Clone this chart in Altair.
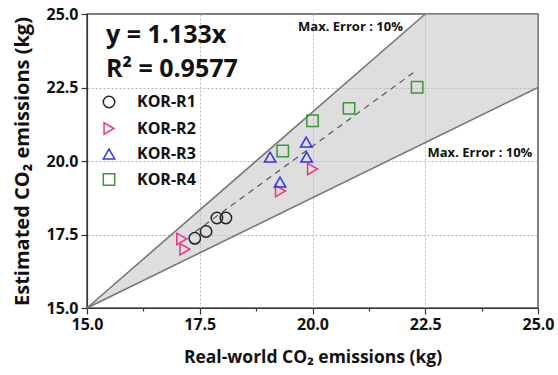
import altair as alt
import pandas as pd

# ---- data ----
r1_x = [17.39, 17.64, 17.88, 18.08]
r1_y = [17.37, 17.60, 18.06, 18.06]
r2_x = [17.10, 17.17, 19.29, 20.00]
r2_y = [17.35, 17.00, 18.98, 19.73]
r3_x = [19.06, 19.28, 19.86, 19.87]
r3_y = [20.13, 19.28, 20.64, 20.13]
r4_x = [19.34, 20.00, 20.81, 22.32]
r4_y = [20.34, 21.37, 21.79, 22.51]
series = ["KOR-R1", "KOR-R2", "KOR-R3", "KOR-R4"]
colors = ["#222222", "#e8388a", "#3232e6", "#3c963c"]
shapes = ["circle", "triangle-right", "triangle-up", "square"]

# error band (10%) boundaries
band_x = [15.0, 22.5, 25.0]
band_lo = [15.0, 20.625, 22.5]
band_hi = [15.0, 25.0, 25.0]
upper_x = [15.0, 22.5]
upper_y = [15.0, 25.0]
lower_x = [15.0, 25.0]
lower_y = [15.0, 22.5]
# fitted line (dashed)
fit_x = [17.4, 22.32]
fit_y = [17.59, 23.10]

ann_text = ["y = 1.133x", "R\u00b2 = 0.9577"]
ann_x = [15.42, 15.42]
ann_y = [24.01, 22.86]
err_text = ["Max. Error : 10%", "Max. Error : 10%"]
err_x = [19.68, 22.55]
err_y = [24.56, 20.27]

FONT = "Open Sans"

rows = []
for name, xs, ys in zip(series, [r1_x, r2_x, r3_x, r4_x], [r1_y, r2_y, r3_y, r4_y]):
    for a, b in zip(xs, ys):
        rows.append({"x": a, "y": b, "series": name})
pts = pd.DataFrame(rows)

xscale = alt.Scale(domain=[15, 25], nice=False, zero=False)
yscale = alt.Scale(domain=[15, 25], nice=False, zero=False)
ticks = [15 + 1.25 * i for i in range(9)]
major = "abs(datum.value / 2.5 - round(datum.value / 2.5)) < 0.001"
inner = "(" + major + ") && datum.value > 15.01 && datum.value < 24.99"


def make_axis(title, title_size, title_pad, label_pad):
    return alt.Axis(
        title=title, values=ticks,
        labelExpr="(" + major + ") ? format(datum.value, '.1f') : ''",
        labelFont=FONT, labelFontSize=16, labelFontWeight="bold", labelColor="#111",
        titleFont=FONT, titleFontSize=title_size, titleFontWeight="bold", titleColor="#111",
        titlePadding=title_pad, domainColor="#333", domainWidth=1.2,
        tickColor="#333", tickWidth=1.2,
        tickSize={"condition": {"test": major, "value": 6}, "value": 3},
        grid=True, gridColor="#b5b5b5", gridDash=[2, 2], gridWidth=1,
        gridOpacity={"condition": {"test": inner, "value": 1}, "value": 0},
        labelPadding=label_pad, labelFlush=False, labelOverlap=False)


band_df = pd.DataFrame({"x": band_x, "lo": band_lo, "hi": band_hi})
band = alt.Chart(band_df).mark_area(color="#bdbdbd", opacity=0.5).encode(
    x=alt.X("x:Q", scale=xscale, axis=make_axis("Real-world CO\u2082 emissions (kg)", 17.5, 16, 2)),
    y=alt.Y("lo:Q", scale=yscale, axis=make_axis("Estimated CO\u2082 emissions (kg)", 20, 13, 3)),
    y2="hi:Q",
)

upper = alt.Chart(pd.DataFrame({"x": upper_x, "y": upper_y})).mark_line(
    color="#777777", strokeWidth=1.6).encode(x=alt.X("x:Q", scale=xscale), y=alt.Y("y:Q", scale=yscale))
lower = alt.Chart(pd.DataFrame({"x": lower_x, "y": lower_y})).mark_line(
    color="#777777", strokeWidth=1.6).encode(x=alt.X("x:Q", scale=xscale), y=alt.Y("y:Q", scale=yscale))
fit = alt.Chart(pd.DataFrame({"x": fit_x, "y": fit_y})).mark_line(
    color="#555555", strokeWidth=1.2, strokeDash=[6, 5]).encode(
    x=alt.X("x:Q", scale=xscale), y=alt.Y("y:Q", scale=yscale))

points = alt.Chart(pts).mark_point(filled=False, size=130, strokeWidth=1.5, opacity=1).encode(
    x=alt.X("x:Q", scale=xscale),
    y=alt.Y("y:Q", scale=yscale),
    color=alt.Color("series:N", scale=alt.Scale(domain=series, range=colors), legend=alt.Legend(
        title=None, orient="none", legendX=14, legendY=80, padding=0,
        labelFont=FONT, labelFontSize=16, labelFontWeight="bold", labelColor="#111",
        labelOffset=20, rowPadding=8.5, symbolSize=130, symbolStrokeWidth=1.5)),
    shape=alt.Shape("series:N", scale=alt.Scale(domain=series, range=shapes), legend=None),
)

ann = alt.Chart(pd.DataFrame({"t": ann_text, "x": ann_x, "y": ann_y})).mark_text(
    align="left", baseline="alphabetic", font=FONT, fontSize=25, fontWeight="bold", color="#111").encode(
    x=alt.X("x:Q", scale=xscale), y=alt.Y("y:Q", scale=yscale), text="t:N")

err = alt.Chart(pd.DataFrame({"t": err_text, "x": err_x, "y": err_y})).mark_text(
    align="left", baseline="middle", font=FONT, fontSize=13, fontWeight="bold", color="#111").encode(
    x=alt.X("x:Q", scale=xscale), y=alt.Y("y:Q", scale=yscale), text="t:N")

chart = alt.layer(band, upper, lower, fit, points, ann, err).properties(
    width=451, height=294,
    autosize=alt.AutoSizeParams(type="none"),
    padding={"left": 87, "top": 14, "right": 20, "bottom": 67},
    background="white",
).configure_view(stroke="#555555", strokeWidth=1.5)

chart.save("out.html", embed_options={"renderer": "svg", "actions": False})
